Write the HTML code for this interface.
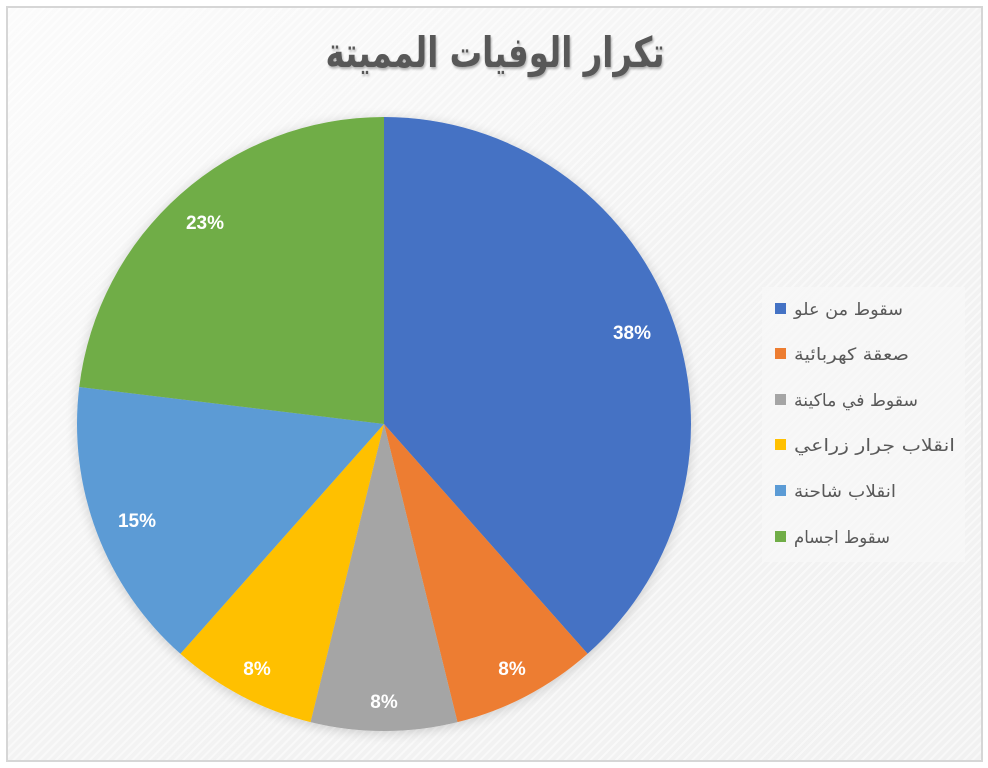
<!DOCTYPE html>
<html><head><meta charset="utf-8">
<style>
html,body{margin:0;padding:0;background:#fff;width:988px;height:768px;overflow:hidden}
svg{display:block}
</style></head>
<body>
<svg width="988" height="768" viewBox="0 0 988 768" xmlns="http://www.w3.org/2000/svg">
<defs>
<linearGradient id="bg" x1="0" y1="0" x2="1" y2="1">
<stop offset="0" stop-color="#fbfbfb"/>
<stop offset="0.5" stop-color="#f3f3f3"/>
<stop offset="1" stop-color="#f1f1f1"/>
</linearGradient>
<pattern id="str" width="6" height="6" patternUnits="userSpaceOnUse" patternTransform="rotate(45)">
<rect width="6" height="6" fill="none"/>
<rect width="2" height="6" fill="#ffffff" opacity="0.5"/>
</pattern>
<filter id="sh" x="-20%" y="-20%" width="140%" height="140%">
<feGaussianBlur in="SourceAlpha" stdDeviation="6"/>
<feOffset dx="0" dy="2" result="b"/>
<feComponentTransfer><feFuncA type="linear" slope="0.18"/></feComponentTransfer>
<feMerge><feMergeNode/><feMergeNode in="SourceGraphic"/></feMerge>
</filter>
<filter id="tsh" x="-5%" y="-20%" width="110%" height="140%">
<feGaussianBlur in="SourceAlpha" stdDeviation="1.2"/>
<feOffset dx="1" dy="2"/>
<feComponentTransfer><feFuncA type="linear" slope="0.3"/></feComponentTransfer>
<feMerge><feMergeNode/><feMergeNode in="SourceGraphic"/></feMerge>
</filter>
</defs>
<rect x="7" y="7" width="975" height="754" fill="url(#bg)" stroke="#d6d6d6" stroke-width="2"/>
<rect x="8" y="8" width="973" height="752" fill="url(#str)"/>

<g transform="translate(495,0) scale(0.81,1.05)">
<text x="0" y="64" text-anchor="middle" font-family="'DejaVu Sans', 'Liberation Sans', sans-serif" font-weight="bold" font-size="40" fill="#595959" filter="url(#tsh)" direction="rtl">تكرار الوفيات المميتة</text>
</g>

<g filter="url(#sh)">
<path d="M384,424 L384,117 A307,307 0 0 1 587.58,653.79 Z" fill="#4472c4"/>
<path d="M384,424 L587.58,653.79 A307,307 0 0 1 457.47,722.08 Z" fill="#ed7d31"/>
<path d="M384,424 L457.47,722.08 A307,307 0 0 1 310.53,722.08 Z" fill="#a5a5a5"/>
<path d="M384,424 L310.53,722.08 A307,307 0 0 1 180.42,653.79 Z" fill="#ffc000"/>
<path d="M384,424 L180.42,653.79 A307,307 0 0 1 79.24,386.99 Z" fill="#5b9bd5"/>
<path d="M384,424 L79.24,386.99 A307,307 0 0 1 384,117 Z" fill="#70ad47"/>
</g>

<g font-family="'Liberation Sans', sans-serif" font-weight="bold" font-size="19" fill="#ffffff" text-anchor="middle">
<text x="632" y="339">38%</text>
<text x="512" y="675">8%</text>
<text x="384" y="708">8%</text>
<text x="257" y="675">8%</text>
<text x="137" y="527">15%</text>
<text x="205" y="229">23%</text>
</g>

<rect x="762" y="287" width="203" height="275" fill="#f8f8f8" opacity="0.7"/>
<g>
<rect x="775" y="303" width="11" height="11" fill="#4472c4"/>
<rect x="775" y="348" width="11" height="11" fill="#ed7d31"/>
<rect x="775" y="394" width="11" height="11" fill="#a5a5a5"/>
<rect x="775" y="439" width="11" height="11" fill="#ffc000"/>
<rect x="775" y="485" width="11" height="11" fill="#5b9bd5"/>
<rect x="775" y="531" width="11" height="11" fill="#70ad47"/>
</g>
<g font-family="'DejaVu Sans', 'Liberation Sans', sans-serif" font-size="17" fill="#595959" direction="rtl" text-anchor="start">
<text x="903" y="315" textLength="109" lengthAdjust="spacingAndGlyphs">سقوط من علو</text>
<text x="909" y="360" textLength="115" lengthAdjust="spacingAndGlyphs">صعقة كهربائية</text>
<text x="918" y="406" textLength="124" lengthAdjust="spacingAndGlyphs">سقوط في ماكينة</text>
<text x="955" y="451" textLength="161" lengthAdjust="spacingAndGlyphs">انقلاب جرار زراعي</text>
<text x="896" y="497" textLength="102" lengthAdjust="spacingAndGlyphs">انقلاب شاحنة</text>
<text x="890" y="543" textLength="96" lengthAdjust="spacingAndGlyphs">سقوط اجسام</text>
</g>
</svg>
</body></html>
